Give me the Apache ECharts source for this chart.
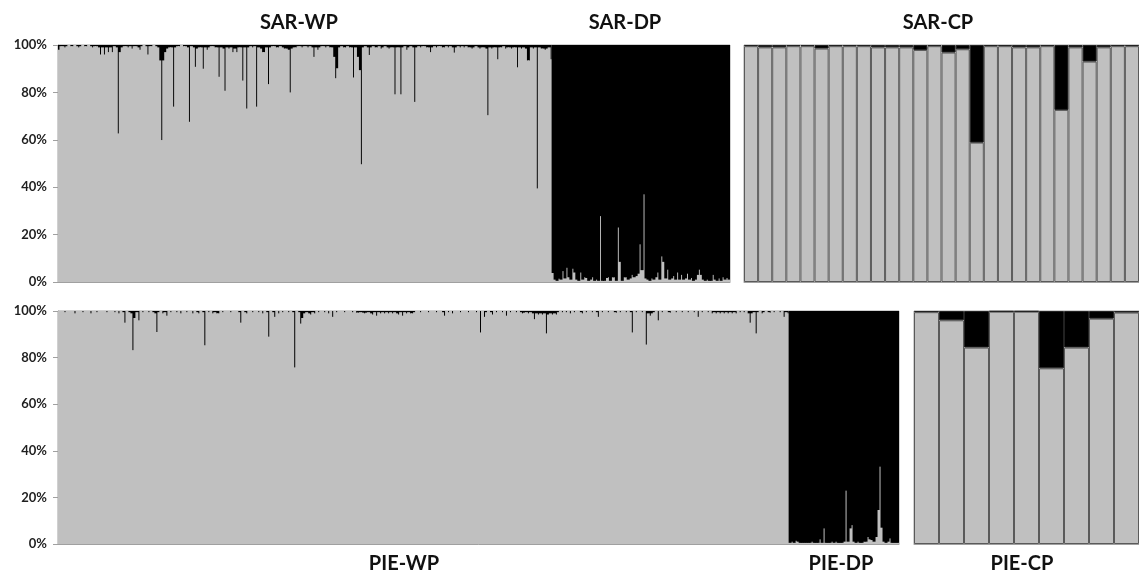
<!DOCTYPE html>
<html>
<head>
<meta charset="utf-8">
<script src="https://cdn.jsdelivr.net/npm/echarts@6/dist/echarts.min.js"></script>
<style>
  html, body { margin: 0; padding: 0; background: #fff; }
  #chart { width: 1139px; height: 576px; }
</style>
</head>
<body>
<div id="chart"></div>
<script>
// Grey = share of ancestry in cluster 1 (%), black = remainder, one bar per individual.
const sarWP = [
  98,99.5,99.5,99,99.5,100,99.5,99.5,100,99.5,99,99.5,100,99.5,99.5,100,99.5,99,99.5,99.5,99,96,99,96,99,
  97,99,97,99.5,99,62.7,97,99,99.5,99.5,99,99.5,98.5,99.5,99.5,99,98,99.5,100,99.5,96,99.5,99.5,100,99.5,
  99,93.5,59.9,93.5,97,98.5,99,99,74,99,99.5,99.5,100,99.5,99.5,99,67.6,99.5,99,90.8,98.5,99,99,90,99,
  98,99,99.5,99.5,99,99,86.6,99,98.5,80.7,99,98.5,99,97,98.5,97,99,99,85,99,73.2,99,99.5,99,99.5,
  74,99,98.5,97,97,99,83.5,99,99.5,99.5,99,99,99.5,99,98.5,98.5,98,80,98.5,99,99,99.5,99.5,99,99.5,
  99.5,99,99.5,99,95,99,98,99,99.5,99.5,99,99.5,99,99,95,86,90.2,99,99.5,99,99,99.5,99,99,86.3,
  99,95,89.4,49.7,99,99.5,99,95.8,99,99.5,99,99,99.5,98.5,99,99.5,99,98.5,99,99,79.2,99,99,79.2,99,
  99.5,98,99,99.5,99,76,99,99.5,99,99.5,99.5,99,99,97,99,99.5,99,99.5,99.5,99,99,99.5,99,99.5,99,
  96.8,99,99.5,99,99.5,99,99.5,99,99,98.5,99,99.5,99,98.5,99,99,98.5,70.4,99,98.5,99,99,94,99,99,
  99.5,98.5,99,99,98.5,99,99,90.6,99,98.5,99,98.5,93.5,93.5,99,98.5,99,39.5,99,98.5,98.5,98,98.5,99,94
];
const sarDP = [
  3.8,1,0.5,1.4,1,4.6,1.5,6,2,1,5.6,4,1,0.5,4,1,2,1.7,0.5,1,2,0.5,1,0.5,27.8,
  0.5,0.5,1.7,2,0.5,2,2,0.5,23,8.5,0.5,2,2,1,1.5,3,2,2.5,3.5,15.9,5,37,1.5,1,0.5,
  1.5,1,2,4,1,10.8,8.5,1.5,5.2,1,1.5,2.5,1,4,1,3,1,1.5,3.5,1,1.7,0.5,1,3,5.2,
  3,1,0.5,1,0.5,0.5,3,1,0.5,1.5,0.5,2,1,1.7,1
];
const sarCP = [99.5,99,99,99.5,99.5,98.5,99.5,99.5,99.5,99,99,99,97.9,99.5,96.8,98.2,58.8,99.5,99.5,99,99,99.5,72.6,99,93,99,99.5,99.5];

const pieWP = [
  100,100,100,99.5,100,100,100,100,99,100,100,100,99.5,100,100,100,99,100,100,99.5,100,100,100,100,99.5,
  100,100,100,99.5,100,99,100,99.5,95,100,99.5,99,83.2,97,99.5,96,100,99.5,100,100,99.5,100,99.5,99,91,
  99.5,100,99,99.5,98,100,99.5,100,100,99.5,100,99,100,100,99.5,100,100,99,100,99.5,99,100,99.5,85.3,100,
  99.5,100,99,99.5,99,99,100,99.5,100,100,100,99.5,100,100,100,99.5,95,100,99.5,99,100,100,99.5,100,100,
  99.5,100,99,100,99.5,89,100,99.5,97.5,100,99,100,99.5,100,100,99.5,100,99.5,75.8,100,99.5,94.6,97,99,99.5,
  99,98.5,99.5,99,100,99.5,100,100,99.5,100,99,100,97.5,100,99.5,100,100,100,99.5,100,100,100,99.5,100,99.3,
  99.3,99.5,99.3,99,99.3,99.5,99,98.5,99.5,98,99.5,99,99.5,99,99.5,99,99.5,99,99.5,99,98.5,99.5,98,99.5,99,
  99.5,99,99,99.5,100,100,99.5,100,100,100,99.5,100,100,100,99.5,100,100,99.5,98,100,99.5,100,99,100,100,
  100,99.5,100,100,100,99.5,100,100,100,99.5,100,90.8,100,97.5,99.5,100,99.5,98.5,100,99.5,100,100,99.5,100,98,
  100,99.5,100,100,99.5,100,99.5,99,99.3,99.5,99,99.5,99,96.5,99,98.5,99,98.5,99,90.4,98.5,99,98.5,99,98.5,
  99.5,100,99.5,100,99.5,100,99,100,99.5,100,100,99.5,99,100,99.5,100,100,99.5,100,99.5,97.5,100,99.5,100,100,
  99.5,100,100,99.5,99.3,100,99.5,100,100,99.5,100,99.5,90.8,100,99.5,100,100,99.5,100,85.6,99,98,99,99.5,100,
  96,100,99.5,100,100,99.5,99.3,100,100,99.5,100,100,99.5,100,100,99.5,100,100,99.5,100,97.5,100,99.5,100,100,
  99.5,100,99,99.5,99,99.5,99,99.5,99,99.5,99,99.5,99,99.5,99,100,99.5,100,99.5,100,99,95,99,99.5,90.4,
  99.5,100,99,99.5,100,99.5,99.3,100,99.5,100,100,99.5,100,97.5,99.5,99
];
const pieDP = [
  0.5,1,0.5,1.4,1,0.5,0.5,0.5,0.5,0.5,0.5,1,0.5,0.5,0.5,2,0.5,6.7,0.5,0.5,0.5,1,0.5,1,0.5,
  0.5,0.5,1,22.9,1,6.7,8.1,1,0.5,1,0.5,0.5,1,1,3,2,1.7,1,3,14.6,33.2,7,1,0.5,1,
  2.4,0.5,0.5,0.5,0.5
];
const pieCP = [99.5,96,84.3,99.7,99.7,75.4,84.3,96.7,99.3];

const yTicks = [0, 20, 40, 60, 80, 100];

const panelTitles = [
  { text: 'SAR-WP', x: 299, y: 23 },
  { text: 'SAR-DP', x: 625, y: 23 },
  { text: 'SAR-CP', x: 938, y: 23 },
  { text: 'PIE-WP', x: 404, y: 564 },
  { text: 'PIE-DP', x: 841, y: 564 },
  { text: 'PIE-CP', x: 1022, y: 564 }
];

const GREY = '#c0c0c0';
const BLACK = '#000000';
const FRAME = '#a0a0a0';
const THIN = 3; // px; wider than a slot so neighbouring thin bars overlap without seams

const rest = arr => arr.map(v => +(100 - v).toFixed(2));
const ids = n => Array.from({ length: n }, (_, i) => String(i + 1));
const full = arr => arr.map(() => 100);
const gap = arr => arr.map(() => '-');

const chart = echarts.init(document.getElementById('chart'), null, { renderer: 'canvas' });

const gridBase = { show: true, borderColor: FRAME, borderWidth: 1, backgroundColor: 'transparent', containLabel: false };

function xAx(gridIndex, data) {
  return {
    type: 'category', gridIndex, data,
    boundaryGap: true,
    axisLine: { show: true, lineStyle: { color: FRAME, width: 1 } },
    axisTick: { show: false }, axisLabel: { show: false }, splitLine: { show: false }
  };
}
function yLeft(gridIndex) {
  return {
    type: 'value', gridIndex, min: 0, max: 100, interval: 20, position: 'left',
    axisLine: { show: true, lineStyle: { color: FRAME, width: 1 } },
    axisTick: { show: true, length: 5, lineStyle: { color: FRAME } },
    axisLabel: {
      show: true, margin: 11, formatter: v => yTicks.includes(v) ? v + '%' : '',
      fontFamily: 'Lato', fontWeight: 'bold', fontSize: 13, color: '#1f1f1f'
    },
    splitLine: { show: false }
  };
}
function yRight(gridIndex) {
  return {
    type: 'value', gridIndex, min: 0, max: 100, interval: 20, position: 'right',
    axisLine: { show: false },
    axisTick: { show: true, inside: true, length: 3, lineStyle: { color: FRAME } },
    axisLabel: { show: false }, splitLine: { show: false }
  };
}
function yPlain(gridIndex) {
  return {
    type: 'value', gridIndex, min: 0, max: 100, interval: 20,
    axisLine: { show: false }, axisTick: { show: false }, axisLabel: { show: false }, splitLine: { show: false }
  };
}

function thinBar(xi, yi, data, color, stack) {
  const s = {
    type: 'bar', xAxisIndex: xi, yAxisIndex: yi, data,
    barWidth: THIN, barGap: '-100%', silent: true,
    itemStyle: { color }
  };
  if (stack) s.stack = stack;
  return s;
}

// A row made of a mostly-grey group (wp) followed by a mostly-black group (dp).
// Each group gets a full-height backdrop in its minority colour, then its majority colour on top.
function rowSeries(xi, yi, wp, dp, key) {
  return [
    thinBar(xi, yi, full(wp).concat(gap(dp)), BLACK),
    thinBar(xi, yi, wp.concat(gap(dp)), GREY),
    thinBar(xi, yi, gap(wp).concat(full(dp)), GREY),
    thinBar(xi, yi, gap(wp).concat(dp), 'rgba(0,0,0,0)', key),
    thinBar(xi, yi, gap(wp).concat(rest(dp)), BLACK, key)
  ];
}
function blockSeries(xi, yi, values, stack) {
  return [
    {
      type: 'bar', xAxisIndex: xi, yAxisIndex: yi, stack, data: values,
      barCategoryGap: '0%', barGap: '0%',
      itemStyle: { color: GREY, borderColor: '#5a5a5a', borderWidth: 1 }, silent: true
    },
    {
      type: 'bar', xAxisIndex: xi, yAxisIndex: yi, stack, data: rest(values),
      barCategoryGap: '0%', barGap: '0%',
      itemStyle: { color: BLACK, borderColor: '#222', borderWidth: 1 }, silent: true
    }
  ];
}

chart.setOption({
  animation: false,
  backgroundColor: '#ffffff',
  grid: [
    Object.assign({ left: 58, top: 45, width: 672, height: 237 }, gridBase),
    Object.assign({ left: 744, top: 45, width: 401, height: 237 }, gridBase),
    Object.assign({ left: 58, top: 311, width: 841, height: 233 }, gridBase),
    Object.assign({ left: 914, top: 311, width: 231, height: 233 }, gridBase)
  ],
  xAxis: [
    xAx(0, ids(sarWP.length + sarDP.length)),
    xAx(1, ids(sarCP.length)),
    xAx(2, ids(pieWP.length + pieDP.length)),
    xAx(3, ids(pieCP.length))
  ],
  yAxis: [
    yLeft(0), yRight(0), yPlain(1),
    yLeft(2), yRight(2), yPlain(3)
  ],
  series: [].concat(
    rowSeries(0, 0, sarWP, sarDP, 'sar'),
    blockSeries(1, 2, sarCP, 'sarcp'),
    rowSeries(2, 3, pieWP, pieDP, 'pie'),
    blockSeries(3, 5, pieCP, 'piecp')
  ),
  graphic: panelTitles.map(t => ({
    type: 'text', x: t.x, y: t.y, silent: true, z: 10,
    style: { text: t.text, fill: '#111', font: 'bold 20px Lato', align: 'center', verticalAlign: 'middle' }
  }))
});
</script>
</body>
</html>
